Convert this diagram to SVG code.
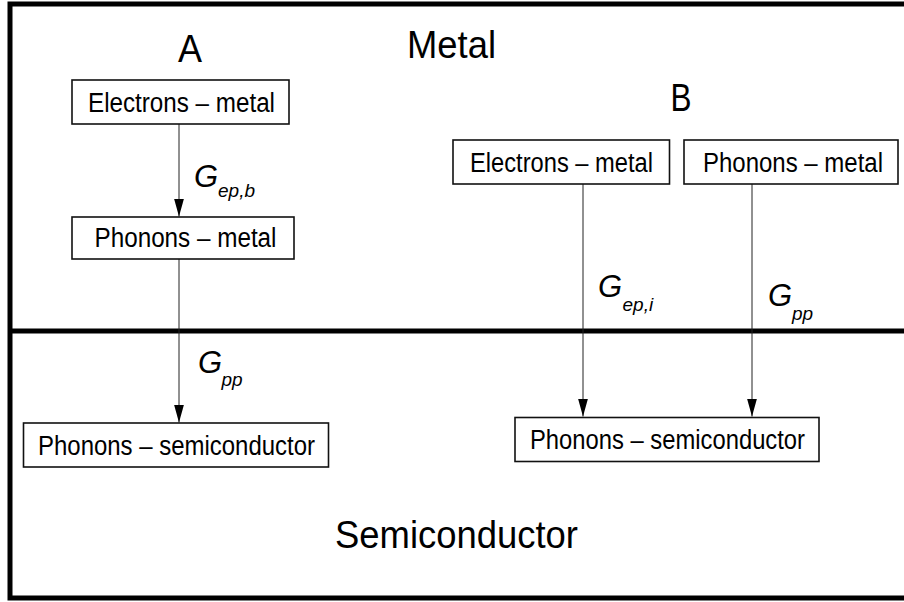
<svg xmlns="http://www.w3.org/2000/svg" width="904" height="602" viewBox="0 0 904 602">
  <style>
    .frame { fill: none; stroke: #000; stroke-width: 5; }
    .box { fill: #fff; stroke: #111; stroke-width: 1.6; }
    .lbl { font-family: "Liberation Sans", Arial, sans-serif; font-size: 27px; fill: #000; text-anchor: middle; }
    .title { font-family: "Liberation Sans", Arial, sans-serif; font-size: 39px; fill: #000; }
    .g { font-family: "Liberation Sans", Arial, sans-serif; font-size: 31px; font-style: italic; fill: #000; }
    .sub { font-family: "Liberation Sans", Arial, sans-serif; font-size: 19px; font-style: italic; fill: #000; }
    .conn { stroke: #222; stroke-width: 1; fill: none; marker-end: url(#arr); }
  </style>
  <defs>
    <marker id="arr" markerUnits="userSpaceOnUse" markerWidth="18" markerHeight="10" viewBox="0 0 18 10" refX="18" refY="5" orient="auto">
      <path d="M0,0 L18,5 L0,10 z" fill="#000"/>
    </marker>
  </defs>
  <rect width="904" height="602" fill="#fff"/>

  <g id="frame">
    <path class="frame" d="M904,4 H10 V598 H904"/>
    <path class="frame" d="M10,331 H904"/>
  </g>

  <g id="titles">
    <text class="title" x="407" y="57.5" textLength="89" lengthAdjust="spacingAndGlyphs">Metal</text>
    <text class="title" x="178" y="61.5" textLength="24" lengthAdjust="spacingAndGlyphs">A</text>
    <text class="title" x="670.5" y="110.5" textLength="21" lengthAdjust="spacingAndGlyphs">B</text>
    <text class="title" x="335" y="548" textLength="243" lengthAdjust="spacingAndGlyphs">Semiconductor</text>
  </g>

  <g id="connectors">
    <line class="conn" x1="179" y1="124" x2="179" y2="216.5"/>
    <line class="conn" x1="179" y1="259" x2="179" y2="422.5"/>
    <line class="conn" x1="583" y1="184" x2="583" y2="416.5"/>
    <line class="conn" x1="752" y1="184" x2="752" y2="416.5"/>
  </g>

  <g id="A-electrons-metal">
    <rect class="box" x="72" y="80" width="217" height="44"/>
    <text class="lbl" x="181.5" y="111.5" textLength="187" lengthAdjust="spacingAndGlyphs">Electrons – metal</text>
  </g>
  <g id="A-phonons-metal">
    <rect class="box" x="72" y="217" width="222" height="42"/>
    <text class="lbl" x="185.5" y="247" textLength="182" lengthAdjust="spacingAndGlyphs">Phonons – metal</text>
  </g>
  <g id="A-phonons-semiconductor">
    <rect class="box" x="23.5" y="423" width="305" height="44"/>
    <text class="lbl" x="176.5" y="454.5" textLength="277" lengthAdjust="spacingAndGlyphs">Phonons – semiconductor</text>
  </g>
  <g id="B-electrons-metal">
    <rect class="box" x="453" y="140" width="216.5" height="44"/>
    <text class="lbl" x="561.5" y="171.5" textLength="183" lengthAdjust="spacingAndGlyphs">Electrons – metal</text>
  </g>
  <g id="B-phonons-metal">
    <rect class="box" x="684" y="140" width="214" height="44"/>
    <text class="lbl" x="793" y="171.5" textLength="180" lengthAdjust="spacingAndGlyphs">Phonons – metal</text>
  </g>
  <g id="B-phonons-semiconductor">
    <rect class="box" x="515" y="417.5" width="304" height="44"/>
    <text class="lbl" x="667.5" y="449" textLength="275" lengthAdjust="spacingAndGlyphs">Phonons – semiconductor</text>
  </g>

  <g id="labels">
    <text class="g" x="194" y="186.5">G</text>
    <text class="sub" x="218" y="197">ep,b</text>
    <text class="g" x="198" y="372.5">G</text>
    <text class="sub" x="221.5" y="385.5">pp</text>
    <text class="g" x="598" y="297">G</text>
    <text class="sub" x="622.5" y="310.5">ep,i</text>
    <text class="g" x="768" y="305.5">G</text>
    <text class="sub" x="792" y="319.5">pp</text>
  </g>
</svg>
